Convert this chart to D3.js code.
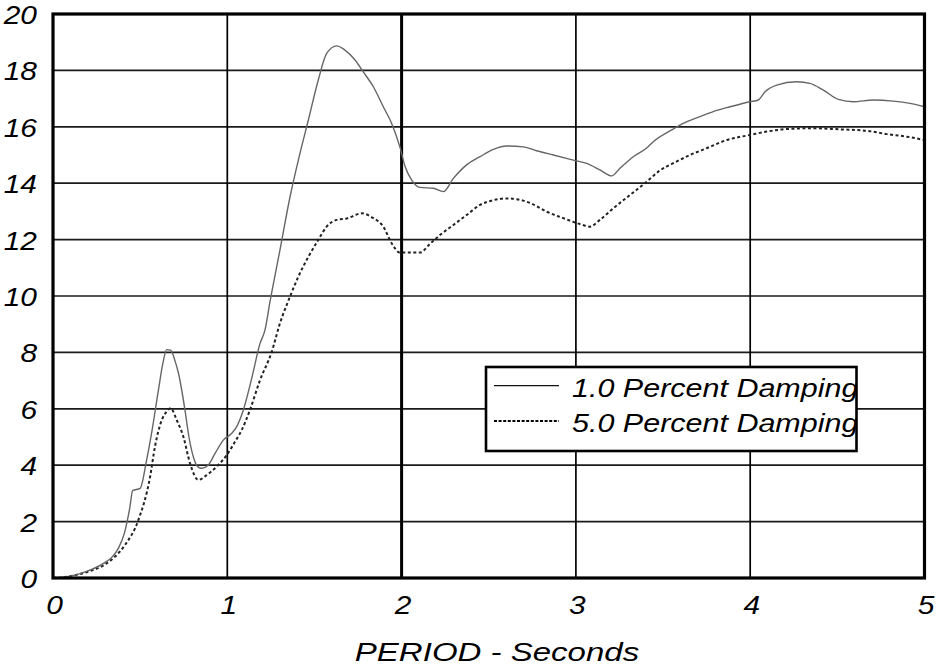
<!DOCTYPE html>
<html>
<head>
<meta charset="utf-8">
<script src="https://cdn.jsdelivr.net/npm/d3@7"></script>
<style>
  html, body { margin: 0; padding: 0; background: #fff; }
  svg { display: block; }
  text { font-family: "Liberation Sans", Arial, sans-serif; font-style: italic; fill: #000; }
</style>
</head>
<body>
<svg id="chart" width="936" height="669"></svg>
<script>
// Response spectrum: period (s) vs. spectral value, two damping levels
const period1 = [0, 0.05, 0.126, 0.2, 0.29, 0.34, 0.375, 0.41, 0.44, 0.457, 0.5, 0.537, 0.57, 0.605, 0.63, 0.652, 0.675, 0.7, 0.72, 0.757, 0.78, 0.805, 0.83, 0.853, 0.89, 0.93, 0.977, 1.025, 1.054, 1.092, 1.14, 1.188, 1.216, 1.245, 1.302, 1.36, 1.417, 1.465, 1.522, 1.57, 1.628, 1.675, 1.733, 1.78, 1.838, 1.895, 1.943, 1.99, 2.02, 2.058, 2.105, 2.182, 2.24, 2.297, 2.373, 2.45, 2.527, 2.603, 2.699, 2.775, 2.87, 2.985, 3.062, 3.138, 3.205, 3.253, 3.329, 3.406, 3.444, 3.55, 3.616, 3.712, 3.788, 3.884, 3.999, 4.047, 4.085, 4.152, 4.267, 4.343, 4.42, 4.506, 4.592, 4.707, 4.821, 4.917, 5.0];
const damping1 = [0, 0.02, 0.1, 0.25, 0.52, 0.75, 1.05, 1.6, 2.47, 3.1, 3.18, 4.18, 5.3, 6.67, 7.6, 8.1, 8.08, 7.7, 7.26, 5.96, 5.0, 4.3, 3.95, 3.89, 4.0, 4.42, 4.89, 5.13, 5.37, 5.96, 7.08, 8.32, 8.79, 9.8, 11.63, 13.52, 15.06, 16.24, 17.66, 18.6, 18.87, 18.72, 18.37, 17.95, 17.42, 16.71, 16.12, 15.29, 14.59, 14.11, 13.85, 13.82, 13.7, 14.17, 14.65, 14.94, 15.2, 15.32, 15.29, 15.15, 15.0, 14.82, 14.7, 14.47, 14.26, 14.53, 14.94, 15.25, 15.47, 15.89, 16.12, 16.36, 16.54, 16.71, 16.89, 16.95, 17.24, 17.48, 17.6, 17.54, 17.3, 16.97, 16.89, 16.95, 16.91, 16.83, 16.71];

const period5 = [0, 0.05, 0.126, 0.2, 0.29, 0.356, 0.413, 0.49, 0.557, 0.585, 0.624, 0.652, 0.675, 0.71, 0.748, 0.786, 0.834, 0.882, 0.939, 0.997, 1.044, 1.083, 1.13, 1.188, 1.255, 1.302, 1.36, 1.407, 1.465, 1.522, 1.57, 1.628, 1.685, 1.771, 1.838, 1.895, 1.943, 1.99, 2.105, 2.163, 2.22, 2.297, 2.373, 2.45, 2.527, 2.603, 2.66, 2.737, 2.832, 2.928, 3.023, 3.08, 3.138, 3.215, 3.31, 3.406, 3.482, 3.559, 3.655, 3.75, 3.865, 3.999, 4.095, 4.209, 4.362, 4.515, 4.668, 4.783, 4.898, 5.0];
const damping5 = [0, 0.02, 0.1, 0.22, 0.45, 0.76, 1.17, 2.06, 3.59, 4.66, 5.6, 5.9, 6.02, 5.6, 5.01, 4.07, 3.48, 3.65, 3.95, 4.36, 4.83, 5.25, 5.96, 7.02, 8.02, 9.03, 9.98, 10.68, 11.39, 11.99, 12.46, 12.7, 12.75, 12.93, 12.76, 12.46, 11.87, 11.54, 11.54, 11.85, 12.16, 12.52, 12.87, 13.23, 13.4, 13.46, 13.43, 13.3, 12.99, 12.76, 12.55, 12.46, 12.7, 13.11, 13.58, 14.05, 14.45, 14.71, 15.0, 15.24, 15.53, 15.71, 15.83, 15.92, 15.95, 15.91, 15.86, 15.74, 15.65, 15.53];

const xTicks = [0, 1, 2, 3, 4, 5];
const yTicks = [0, 2, 4, 6, 8, 10, 12, 14, 16, 18, 20];
const seriesNames = ["1.0 Percent Damping", "5.0 Percent Damping"];
const axisTitle = "PERIOD - Seconds";

const svg = d3.select("#chart");
const plotLeft = 53, plotRight = 924.5, plotTop = 14, plotBottom = 578;

const x = d3.scaleLinear().domain([0, 5]).range([plotLeft, plotRight]);
const y = d3.scaleLinear().domain([0, 20]).range([plotBottom, plotTop]);

// Italic text, slightly widened horizontally
function stretchedText(g, px, py, str, size, anchor, sx) {
  return g.append("text")
    .attr("transform", `translate(${px},${py}) scale(${sx},1)`)
    .attr("text-anchor", anchor)
    .style("font-size", size + "px")
    .text(str);
}

// Gridlines
const grid = svg.append("g");
grid.selectAll("line.h").data(yTicks.slice(1, -1)).join("line")
  .attr("class", "h")
  .attr("x1", plotLeft).attr("x2", plotRight)
  .attr("y1", d => y(d)).attr("y2", d => y(d))
  .attr("stroke", "#1a1a1a").attr("stroke-width", 1.7);
grid.selectAll("line.v").data(xTicks.slice(1, -1)).join("line")
  .attr("class", "v")
  .attr("y1", plotTop).attr("y2", plotBottom)
  .attr("x1", d => x(d)).attr("x2", d => x(d))
  .attr("stroke", "#000").attr("stroke-width", d => d === 2 ? 3 : 1.7);

// Curves
const line = d3.line().x(d => x(d[0])).y(d => y(d[1])).curve(d3.curveMonotoneX);
const s1 = period1.map((p, i) => [p, damping1[i]]);
const s5 = period5.map((p, i) => [p, damping5[i]]);

svg.append("path").datum(s5).attr("d", line)
  .attr("fill", "none").attr("stroke", "#222").attr("stroke-width", 2)
  .attr("stroke-dasharray", "3,2.5");
svg.append("path").datum(s1).attr("d", line)
  .attr("fill", "none").attr("stroke", "#666").attr("stroke-width", 1.4);

// Frame
svg.append("rect")
  .attr("x", plotLeft).attr("y", plotTop)
  .attr("width", plotRight - plotLeft).attr("height", plotBottom - plotTop)
  .attr("fill", "none").attr("stroke", "#000").attr("stroke-width", 3.2);

// Axis labels (axis generators place the ticks; labels are redrawn italic)
const yAxis = d3.axisLeft(y).tickValues(yTicks).tickSize(0).tickPadding(0);
const yg = svg.append("g");
yAxis(yg);
yg.select(".domain").remove();
yg.selectAll(".tick text").remove();
yg.selectAll(".tick").each(function (d) {
  stretchedText(d3.select(this), 37, 9.5, String(d), 26, "end", 1.15);
});

const xAxis = d3.axisBottom(x).tickValues(xTicks).tickSize(0).tickPadding(0);
const xg = svg.append("g");
xAxis(xg);
xg.select(".domain").remove();
xg.selectAll(".tick text").remove();
xg.selectAll(".tick").each(function (d) {
  stretchedText(d3.select(this), 1, 614, String(d), 26, "middle", 1.15);
});

stretchedText(svg, 497, 661, axisTitle, 26, "middle", 1.27);

// Legend
const lg = svg.append("g");
const lx = 486, ly = 367, lw = 370.5, lh = 84;
svg.append("clipPath").attr("id", "legendClip")
  .append("rect").attr("x", lx).attr("y", ly).attr("width", lw).attr("height", lh);
lg.append("rect").attr("x", lx).attr("y", ly).attr("width", lw).attr("height", lh)
  .attr("fill", "#fff");
const rows = [
  { name: seriesNames[0], dash: null, color: "#111", w: 1.3, ly: 385.7, ty: 396.5 },
  { name: seriesNames[1], dash: "3,1.6", color: "#000", w: 2, ly: 421, ty: 431.5 }
];
const lgc = lg.append("g").attr("clip-path", "url(#legendClip)");
rows.forEach(r => {
  lgc.append("line").attr("x1", 494).attr("x2", 559).attr("y1", r.ly).attr("y2", r.ly)
    .attr("stroke", r.color).attr("stroke-width", r.w)
    .attr("stroke-dasharray", r.dash);
  stretchedText(lgc, 572, r.ty, r.name, 25, "start", 1.22);
});
lg.append("rect").attr("x", lx).attr("y", ly).attr("width", lw).attr("height", lh)
  .attr("fill", "none").attr("stroke", "#000").attr("stroke-width", 2.6);
</script>
</body>
</html>
